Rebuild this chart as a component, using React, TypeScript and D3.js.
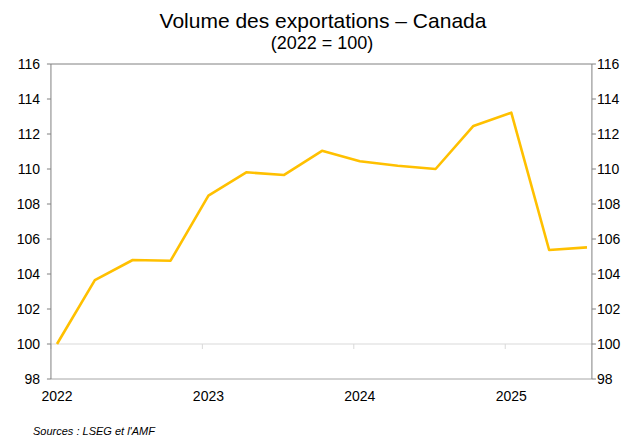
import React from 'react';
import * as d3 from 'd3';

// quarterly export volume index, 2022 = 100
const quarters = [
  '2022T1', '2022T2', '2022T3', '2022T4',
  '2023T1', '2023T2', '2023T3', '2023T4',
  '2024T1', '2024T2', '2024T3', '2024T4',
  '2025T1', '2025T2', '2025T3',
];
const volume = [
  100.0, 103.65, 104.8, 104.76,
  108.48, 109.81, 109.66, 111.04,
  110.44, 110.19, 110.0, 112.46,
  113.22, 105.37, 105.52,
];
const yearLabels = ['2022', '2023', '2024', '2025'];
const yTicks = [98, 100, 102, 104, 106, 108, 110, 112, 114, 116];

const W = 640;
const H = 440;
const FONT = '"Liberation Sans", Arial, sans-serif';
const LINE_COLOR = '#FFC000';

const App: React.FC = () => {
  const x = d3.scaleLinear().domain([0, quarters.length - 1]).range([57, 587]);
  const y = d3.scaleLinear().domain([98, 116]).range([379, 64]);

  const left = x(-0.16);
  const right = x(quarters.length - 1 + 0.13);
  const top = y(116);
  const bottom = y(98);

  const line = d3.line<number>()
    .x((_, i) => x(i))
    .y(d => y(d));

  return (
    <svg width={W} height={H} style={{ display: 'block', position: 'absolute', left: 0, top: 0 }}>
      <rect width={W} height={H} fill="#fff" />

      {/* titles */}
      <text x={323} y={28} textAnchor="middle" fontFamily={FONT} fontSize={21} fill="#000">
        Volume des exportations – Canada
      </text>
      <text x={322} y={49} textAnchor="middle" fontFamily={FONT} fontSize={18} fill="#000">
        (2022 = 100)
      </text>

      {/* base line at 100 with year ticks */}
      <line x1={left} x2={right} y1={y(100)} y2={y(100)} stroke="#d9d9d9" strokeWidth={1} />
      {yearLabels.map((_, k) => {
        const tx = x(k * 4 - 0.16);
        return <line key={k} x1={tx} x2={tx} y1={y(100)} y2={y(100) + 5} stroke="#d9d9d9" />;
      })}

      {/* frame */}
      <line x1={left} x2={right} y1={top} y2={top} stroke="#808080" />
      <line x1={left} x2={right} y1={bottom} y2={bottom} stroke="#a6a6a6" />
      <line x1={left} x2={left} y1={top} y2={bottom} stroke="#808080" />
      <line x1={right} x2={right} y1={top} y2={bottom} stroke="#808080" />

      {/* y axes */}
      {yTicks.map(t => (
        <g key={t}>
          <line x1={left - 4} x2={left} y1={y(t)} y2={y(t)} stroke="#808080" />
          <line x1={right} x2={right + 4} y1={y(t)} y2={y(t)} stroke="#808080" />
          <text x={40} y={y(t) + 5} textAnchor="end" fontFamily={FONT} fontSize={14} fill="#000">{t}</text>
          <text x={597} y={y(t) + 5} textAnchor="start" fontFamily={FONT} fontSize={14} fill="#000">{t}</text>
        </g>
      ))}

      {/* x labels */}
      {yearLabels.map((lbl, k) => (
        <text key={lbl} x={x(k * 4)} y={401} textAnchor="middle" fontFamily={FONT} fontSize={14} fill="#000">
          {lbl}
        </text>
      ))}

      {/* series */}
      <path d={line(volume) || ''} fill="none" stroke={LINE_COLOR} strokeWidth={2.6} strokeLinejoin="round" />

      <text x={33} y={435} fontFamily={FONT} fontSize={11} fontStyle="italic" fill="#000">
        Sources : LSEG et l'AMF
      </text>
    </svg>
  );
};

export default App;
